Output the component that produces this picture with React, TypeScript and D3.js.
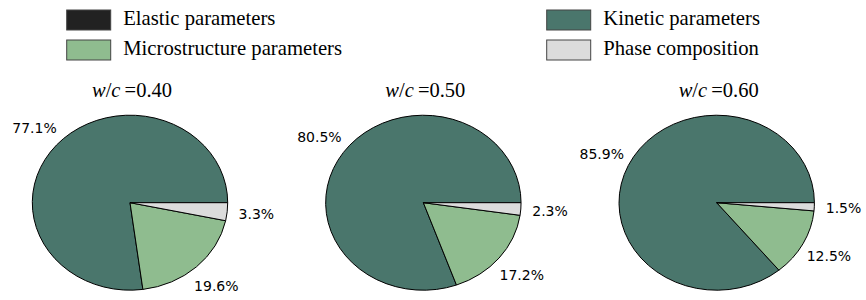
import React from 'react'
import * as d3 from 'd3'

const categories = ['Elastic parameters', 'Kinetic parameters', 'Microstructure parameters', 'Phase composition']
const colors = ['#222222', '#4a766c', '#8fbc8f', '#dcdcdc']
const ratios = ['0.40', '0.50', '0.60']
const elastic = [0, 0, 0]
const kinetic = [77.1, 80.5, 85.9]
const micro = [19.6, 17.2, 12.5]
const phase = [3.3, 2.3, 1.5]

const W = 866
const H = 300
const rx = 97.7
const ry = 87.5
const cy = 202.7
const labelDist = 1.3
const serif = '"Liberation Serif", "Times New Roman", serif'

// legend layout: two columns, filled row by row
const legendCols = [66.7, 546.7]
const legendRows = [10, 40]

export default function App() {
  const x = d3.scalePoint<string>().domain(ratios).range([130, 716.7])

  const pie = d3
    .pie<{ cat: number; v: number }>()
    .value(d => d.v)
    .sort(null)
    .startAngle(Math.PI / 2)
    .endAngle(Math.PI / 2 - 2 * Math.PI) // counterclockwise from east

  const arc = d3.arc<d3.PieArcDatum<{ cat: number; v: number }>>().innerRadius(0).outerRadius(1)

  return (
    <svg width={W} height={H} style={{ position: 'absolute', left: 0, top: 0, background: '#fff' }}>
      {categories.map((c, i) => {
        const col = i % 2
        const row = Math.floor(i / 2)
        const bx = legendCols[col]
        const by = legendRows[row]
        return (
          <g key={c}>
            <rect x={bx} y={by} width={44} height={20} fill={colors[i]} stroke="#444" strokeWidth={1} />
            <text x={bx + 56.5} y={by + 15} fontFamily={serif} fontSize={20.7} fill="#000">
              {c}
            </text>
          </g>
        )
      })}

      {ratios.map((r, k) => {
        const cx = x(r)!
        const vals = [elastic[k], kinetic[k], micro[k], phase[k]]
        const data = vals.map((v, i) => ({ cat: i, v })).filter(d => d.v > 0)
        const arcs = pie(data)
        return (
          <g key={r}>
            <text x={cx + 2} y={96.5} textAnchor="middle" fontFamily={serif} fontSize={20.5} fill="#000">
              <tspan fontStyle="italic">w</tspan>
              <tspan>/</tspan>
              <tspan fontStyle="italic">c</tspan>
              <tspan>{'\u2009=0.' + r.slice(2)}</tspan>
            </text>
            <g transform={`translate(${cx},${cy}) scale(${rx},${ry})`}>
              {arcs.map(a => (
                <path
                  key={a.data.cat}
                  d={arc(a) ?? ''}
                  fill={colors[a.data.cat]}
                  stroke="#000"
                  strokeWidth={1}
                  vectorEffect="non-scaling-stroke"
                />
              ))}
            </g>
            {arcs.map(a => {
              const m = (a.startAngle + a.endAngle) / 2
              const lx = cx + Math.sin(m) * rx * labelDist
              const ly = cy - Math.cos(m) * ry * labelDist
              return (
                <text
                  key={'l' + a.data.cat}
                  x={lx}
                  y={ly}
                  textAnchor="middle"
                  dominantBaseline="central"
                  fontFamily='"DejaVu Sans", sans-serif'
                  fontSize={14}
                  fill="#000"
                >
                  {a.data.v.toFixed(1)}%
                </text>
              )
            })}
          </g>
        )
      })}
    </svg>
  )
}
